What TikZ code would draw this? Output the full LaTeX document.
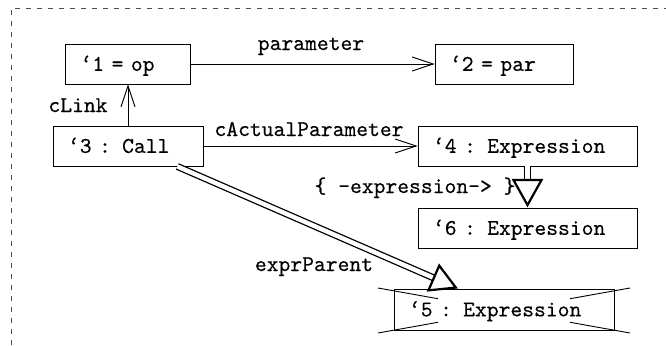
\documentclass[tikz,border=0pt]{standalone}
\usepackage{fontspec}
\usetikzlibrary{arrows.meta,calc}
\newfontfamily\diagtt{lmmono10-regular}[Extension=.otf, RawFeature={embolden=0.3}]
\newcommand\diagfont{\diagtt\fontsize{22.5bp}{27bp}\selectfont}
\tikzset{
  box/.style={draw, line width=0.9bp, rectangle, minimum height=40bp,
    inner xsep=15bp, inner ysep=0pt, align=left, font=\diagfont,
    text height=13.7bp, text depth=0pt},
  lbl/.style={font=\diagfont, inner sep=0pt, anchor=base},
  link/.style={line width=0.9bp, -{Straight Barb[length=21bp,width=14bp,line width=0.9bp]}},
  hollowhead/.style={draw, line width=2.2bp, fill=white, line join=miter},
  shaft/.style={double, double distance=4.4bp, line width=1.3bp},
  frame/.style={dash pattern=on 5bp off 6bp, line width=0.9bp, black!70}
}
\begin{document}
\begin{tikzpicture}[x=1bp, y=-1bp]
\useasboundingbox (0,0) rectangle (666,345);
% enclosing dashed frame (open to the right and bottom)
\draw[frame] (11,345) -- (11,8) -- (666,8);

% object boxes
\node[box, text width=95bp]  (n1) at (128,64)    {‘1 = op};
\node[box, text width=108bp] (n2) at (504,64)    {‘2 = par};
\node[box, text width=120bp] (n3) at (128,146)   {‘3 : Call};
\node[box, text width=189bp] (n4) at (527.5,146) {‘4 : Expression};
\node[box, text width=189bp] (n6) at (527.5,228) {‘6 : Expression};
\node[box, text width=190bp, minimum height=41bp] (n5) at (504,309.5) {‘5 : Expression};

% plain links
\draw[link] (n1) -- (n2);
\draw[link] (n3.north) -- (n1.south);
\draw[link] (n3) -- (n4);

% link labels
\node[lbl] (lparam) at (311,50)  {parameter};
\node[lbl] (lclink) at (78,112)  {cLink};
\node[lbl] (lcap)   at (309,136) {cActualParameter};
\node[lbl] (lexp)   at (415,193) {\{ -expression-> \}};
\node[lbl] (lpar)   at (314,271) {exprParent};

% rewrite arrow from '4 to '6
\coordinate (t6) at ($(n6.north)+(0,-2.5)$);
\coordinate (b6) at ($(t6)!25bp!(n4.south)$);
\draw[shaft] (n4.south) -- (b6);
\draw[hollowhead] (t6) -- ($(b6)!14bp!90:(t6)$) -- ($(b6)!14bp!-90:(t6)$) -- cycle;

% exprParent arrow from '3 to '5
\coordinate (s5) at ($(n3.south west)!0.827!(n3.south east)$);
\coordinate (t5) at ($(n5.north west)!0.282!(n5.north east)+(0,-1)$);
\coordinate (b5) at ($(t5)!24bp!(s5)$);
\draw[shaft] (s5) -- (b5);
\draw[hollowhead] (t5) -- ($(b5)!13.5bp!90:(t5)$) -- ($(b5)!13.5bp!-90:(t5)$) -- cycle;

% crossed-out marks on '5
\coordinate (cTL) at (378,288);
\coordinate (cBR) at (630,333);
\coordinate (cBL) at (378,333);
\coordinate (cTR) at (630,288);
\draw[line width=0.9bp] (cTL) -- ($(cTL)!0.238!(cBR)$);
\draw[line width=0.9bp] (cBR) -- ($(cBR)!0.238!(cTL)$);
\draw[line width=0.9bp] (cBL) -- ($(cBL)!0.238!(cTR)$);
\draw[line width=0.9bp] (cTR) -- ($(cTR)!0.238!(cBL)$);
\end{tikzpicture}
\end{document}
